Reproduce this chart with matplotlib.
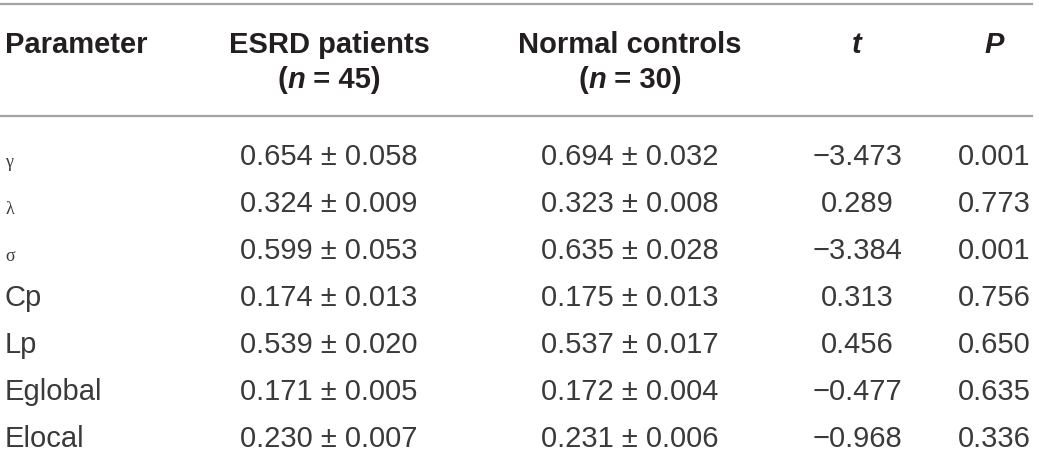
import matplotlib
matplotlib.use("Agg")
import matplotlib.pyplot as plt

# table contents
params = ["\u03b3", "\u03bb", "\u03c3", "Cp", "Lp", "Eglobal", "Elocal"]
greek = [True, True, True, False, False, False, False]
esrd = ["0.654 \u00b1 0.058", "0.324 \u00b1 0.009", "0.599 \u00b1 0.053", "0.174 \u00b1 0.013",
        "0.539 \u00b1 0.020", "0.171 \u00b1 0.005", "0.230 \u00b1 0.007"]
normal = ["0.694 \u00b1 0.032", "0.323 \u00b1 0.008", "0.635 \u00b1 0.028", "0.175 \u00b1 0.013",
          "0.537 \u00b1 0.017", "0.172 \u00b1 0.004", "0.231 \u00b1 0.006"]
t_vals = ["\u22123.473", "0.289", "\u22123.384", "0.313", "0.456", "\u22120.477", "\u22120.968"]
p_vals = ["0.001", "0.773", "0.001", "0.756", "0.650", "0.635", "0.336"]
n_esrd = "45"
n_normal = "30"

W, H = 1039, 452
FONT = "Liberation Sans"
INK = "#231f20"
BODY = "#3a3a3a"
FS = 21

fig = plt.figure(figsize=(W / 100, H / 100), dpi=100)
fig.patch.set_facecolor("white")


def fx(x):
    return x / W


def fy(y):
    return 1 - y / H


def txt(x, y, s, ha="center", **kw):
    kw.setdefault("fontsize", FS)
    kw.setdefault("family", FONT)
    kw.setdefault("color", INK)
    return fig.text(fx(x), fy(y), s, ha=ha, va="baseline", **kw)


def rich(xc, y, pieces):
    # pieces of (string, weight, style) laid out side by side, centred on xc
    r = fig.canvas.get_renderer()
    arts = []
    for s, wgt, sty in pieces:
        arts.append(txt(0, y, s, ha="left", fontweight=wgt, fontstyle=sty))
    widths = [a.get_window_extent(r).width for a in arts]
    x = xc - sum(widths) / 2
    for a, w in zip(arts, widths):
        a.set_x(fx(x))
        x += w


# rules
for yl in (5, 117):
    fig.add_artist(plt.Line2D([0, fx(1032)], [fy(yl), fy(yl)], color="#a3a3a3", lw=1.6))

col_x = [5, 329, 630, 857, 994]

# header
hy1, hy2 = 53, 88
txt(col_x[0], hy1, "Parameter", ha="left", fontweight="bold")
txt(col_x[1], hy1, "ESRD patients", fontweight="bold")
txt(col_x[2], hy1, "Normal controls", fontweight="bold")
txt(col_x[3], hy1, "t", fontweight="bold", fontstyle="italic")
txt(col_x[4], hy1, "P", fontweight="bold", fontstyle="italic")
rich(col_x[1], hy2, [("(", "bold", "normal"), ("n", "bold", "italic"), (" = " + n_esrd + ")", "bold", "normal")])
rich(col_x[2], hy2, [("(", "bold", "normal"), ("n", "bold", "italic"), (" = " + n_normal + ")", "bold", "normal")])

# body
for i in range(len(params)):
    yb = 165 + 47 * i
    if greek[i]:
        txt(col_x[0], yb + 2, params[i], ha="left", family="Liberation Serif", fontsize=13, color=BODY)
    else:
        txt(col_x[0], yb, params[i], ha="left", color=BODY)
    txt(col_x[1], yb, esrd[i], color=BODY)
    txt(col_x[2], yb, normal[i], color=BODY)
    txt(col_x[3], yb, t_vals[i], color=BODY)
    txt(col_x[4], yb, p_vals[i], color=BODY)

fig.savefig("out.png", dpi=100, facecolor="white")
